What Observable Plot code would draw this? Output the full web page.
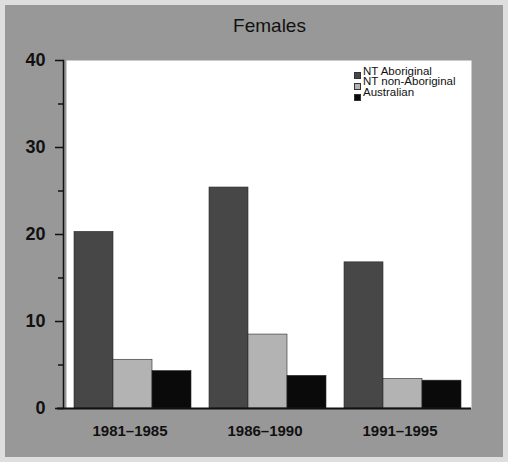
<!DOCTYPE html>
<html><head><meta charset="utf-8">
<script src="https://cdn.jsdelivr.net/npm/d3@7"></script>
<script src="https://cdn.jsdelivr.net/npm/@observablehq/plot@0.6"></script>
<style>
html,body{margin:0;padding:0;background:#dedede;}
#wrap{position:absolute;left:5px;top:5px;width:498px;height:452px;background:#989898;}
#wrap svg{position:absolute;left:0;top:0;}
#legend{position:absolute;left:349px;top:60.6px;font-family:"Liberation Sans",Arial,sans-serif;font-size:11.5px;color:#111;}
.row{position:relative;height:10.8px;line-height:10.8px;white-space:nowrap;}
.sw{position:absolute;left:0;top:6.4px;width:5px;height:5px;border:0.6px solid #333;}
.lbl{position:absolute;left:9px;top:0;}
</style></head>
<body>
<div id="wrap"></div>
<script>
const title = "Females";
const periods = ["1981–1985", "1986–1990", "1991–1995"];
const series = ["NT Aboriginal", "NT non-Aboriginal", "Australian"];
const ntAboriginal = [20.3, 25.4, 16.8];
const ntNonAboriginal = [5.6, 8.5, 3.4];
const australian = [4.3, 3.75, 3.2];
const yTicks = [0, 10, 20, 30, 40];
const yMinorTicks = [5, 15, 25, 35];
const colors = ["#474747", "#b3b3b3", "#0a0a0a"];

const valuesBySeries = [ntAboriginal, ntNonAboriginal, australian];
const barW = 39;
const barMarks = series.map((s, i) =>
  Plot.barY(periods.map((p, j) => ({period: p, value: valuesBySeries[i][j]})), {
    x: "period", y: "value", fill: colors[i], stroke: "#2a2a2a", strokeWidth: 0.6,
    insetLeft: i * barW, insetRight: (2 - i) * barW
  })
);

const chart = Plot.plot({
  width: 498, height: 452,
  marginLeft: 58, marginRight: 32, marginTop: 55, marginBottom: 49,
  style: {background: "transparent", fontFamily: "Liberation Sans, Arial, sans-serif", color: "#111", overflow: "visible"},
  x: {domain: periods, paddingInner: 0.1365, paddingOuter: 0.074, label: null},
  y: {domain: [0, 40], label: null},
  marks: [
    Plot.frame({fill: "white", stroke: "none", insetLeft: 3}),
    ...barMarks,
    Plot.frame({anchor: "left", stroke: "#111", strokeWidth: 1.5}),
    Plot.ruleY([0], {stroke: "#111", strokeWidth: 2, insetLeft: -6}),
    Plot.axisY(yTicks, {tickSize: 8, tickPadding: 10, fontSize: 18, fontWeight: "bold", strokeWidth: 1.5, label: null}),
    Plot.axisY(yMinorTicks, {tickSize: 5, tickFormat: () => "", strokeWidth: 1.5, label: null}),
    Plot.axisX({tickSize: 0, tickPadding: 17, fontSize: 15, fontWeight: "bold", dx: -3, label: null}),
    Plot.text([title], {frameAnchor: "top", dy: -29, dx: 2, lineAnchor: "bottom", fontSize: 19, fill: "#111"})
  ]
});
const wrap = document.getElementById("wrap");
wrap.appendChild(chart);

const legend = document.createElement("div");
legend.id = "legend";
series.forEach((s, i) => {
  const row = document.createElement("div");
  row.className = "row";
  const sw = document.createElement("span");
  sw.className = "sw";
  sw.style.background = colors[i];
  const lbl = document.createElement("span");
  lbl.className = "lbl";
  lbl.textContent = s;
  row.appendChild(sw); row.appendChild(lbl);
  legend.appendChild(row);
});
wrap.appendChild(legend);
</script>
</body></html>
